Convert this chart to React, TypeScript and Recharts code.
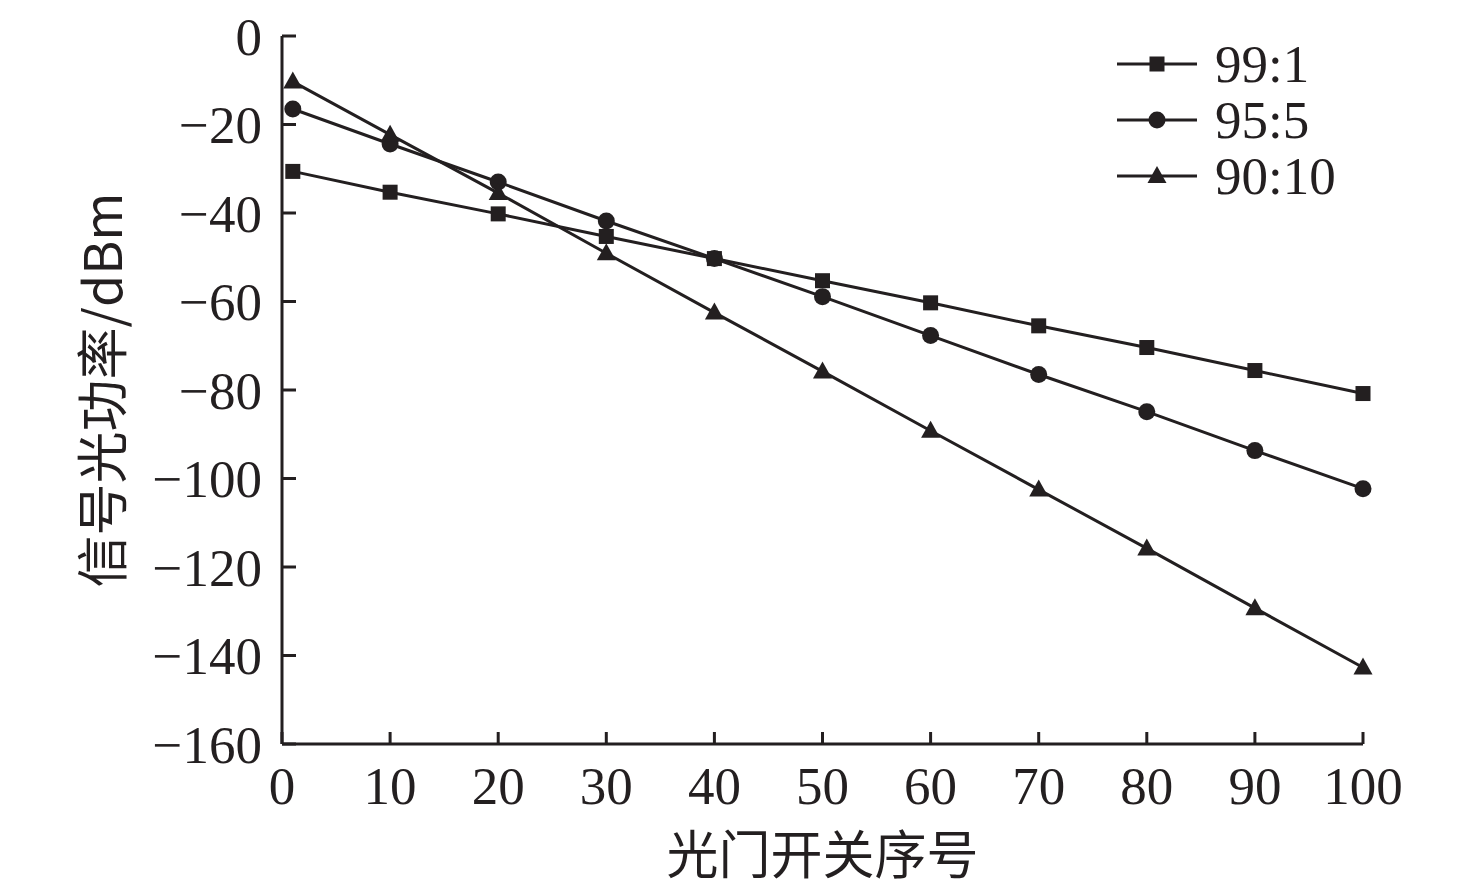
import React from "react"
import { LineChart, Line, XAxis, YAxis } from "recharts"

// x positions (switch index) and measured power per split ratio
const switchIndex = [1, 10, 20, 30, 40, 50, 60, 70, 80, 90, 100]
const ratio99 = [-30.6, -35.3, -40.2, -45.3, -50.3, -55.3, -60.3, -65.5, -70.4, -75.6, -80.8]
const ratio95 = [-16.5, -24.4, -33.0, -41.8, -50.3, -58.9, -67.7, -76.5, -84.9, -93.7, -102.3]
const ratio90 = [-10.3, -22.3, -35.5, -49.1, -62.5, -75.8, -89.2, -102.5, -115.8, -129.3, -142.7]

const xTicks = [0, 10, 20, 30, 40, 50, 60, 70, 80, 90, 100]
const yTicks = [0, -20, -40, -60, -80, -100, -120, -140, -160]

const seriesNames = ["99:1", "95:5", "90:10"]
const seriesKeys = ["r99", "r95", "r90"]

const data = switchIndex.map((x, i) => ({
  x,
  r99: ratio99[i],
  r95: ratio95[i],
  r90: ratio90[i],
}))

const INK = "#231f20"
const FONT = "'Liberation Serif', 'Times New Roman', 'Noto Sans CJK SC', serif"
const CJK_FONT = "'Noto Sans CJK SC', 'Liberation Serif', serif"
const TICK_SIZE = 53

const Marker = ({ shape, cx, cy }: { shape: string; cx: number; cy: number }) => {
  if (shape === "square") return <rect x={cx - 7.5} y={cy - 7.5} width={15} height={15} fill={INK} />
  if (shape === "circle") return <circle cx={cx} cy={cy} r={8.5} fill={INK} />
  return <polygon points={`${cx},${cy - 10} ${cx - 9.5},${cy + 7} ${cx + 9.5},${cy + 7}`} fill={INK} />
}

const shapes = ["square", "circle", "triangle"]

const makeDot = (shape: string) => (props: any) => {
  const { cx, cy, index } = props
  if (cx == null || cy == null) return <g key={index} />
  return (
    <g key={`${shape}-${index}`}>
      <Marker shape={shape} cx={cx} cy={cy} />
    </g>
  )
}

const fmt = (v: number) => (v < 0 ? `\u2212${Math.abs(v)}` : `${v}`)

// legend drawn as an overlay so it does not take space from the plot
const LegendBox = () => (
  <svg
    width={300}
    height={180}
    style={{ position: "absolute", left: 1117, top: 30, overflow: "visible" }}
  >
    {seriesNames.map((name, i) => {
      const y = 34 + i * 56
      return (
        <g key={name}>
          <line x1={0} y1={y} x2={80} y2={y} stroke={INK} strokeWidth={3} />
          <Marker shape={shapes[i]} cx={40} cy={y} />
          <text x={98} y={y} dominantBaseline="central" fontFamily={FONT} fontSize={TICK_SIZE} fill={INK}>
            {name}
          </text>
        </g>
      )
    })}
  </svg>
)

export default function App() {
  return (
    <div style={{ position: "absolute", left: 0, top: 0, width: 1476, height: 891, background: "#fff" }}>
      <LineChart width={1476} height={891} data={data} margin={{ top: 36, right: 113, left: 0, bottom: 0 }}>
        <XAxis
          dataKey="x"
          type="number"
          domain={[0, 100]}
          ticks={xTicks}
          height={147}
          stroke={INK}
          axisLine={{ stroke: INK, strokeWidth: 3 }}
          tickLine={{ stroke: INK, strokeWidth: 3 }}
          tickSize={-12}
          tickMargin={34}
          tick={{ fill: INK, fontSize: TICK_SIZE, fontFamily: FONT }}
          label={{
            content: (p: any) => {
              const vb = p.viewBox || {}
              const cx = (vb.x ?? 282) + (vb.width ?? 1081) / 2
              return (
                <text
                  x={cx}
                  y={851}
                  textAnchor="middle"
                  dominantBaseline="central"
                  fill={INK}
                  fontSize={52}
                  fontFamily={CJK_FONT}
                >
                  光门开关序号
                </text>
              )
            },
          }}
        />
        <YAxis
          type="number"
          domain={[-160, 0]}
          ticks={yTicks}
          width={282}
          stroke={INK}
          axisLine={{ stroke: INK, strokeWidth: 3 }}
          tickLine={{ stroke: INK, strokeWidth: 3 }}
          tickSize={-14}
          tickMargin={34}
          tickFormatter={fmt}
          tick={{ fill: INK, fontSize: TICK_SIZE, fontFamily: FONT }}
          label={{
            content: () => (
              <text
                x={99}
                y={390}
                transform="rotate(-90 99 390)"
                textAnchor="middle"
                dominantBaseline="central"
                fill={INK}
                fontSize={52}
                fontFamily={CJK_FONT}
              >
                信号光功率/dBm
              </text>
            ),
          }}
        />
        {seriesKeys.map((k, i) => (
          <Line
            key={k}
            dataKey={k}
            name={seriesNames[i]}
            type="linear"
            stroke={INK}
            strokeWidth={3}
            dot={makeDot(shapes[i])}
            activeDot={false}
            isAnimationActive={false}
          />
        ))}
      </LineChart>
      <LegendBox />
    </div>
  )
}
